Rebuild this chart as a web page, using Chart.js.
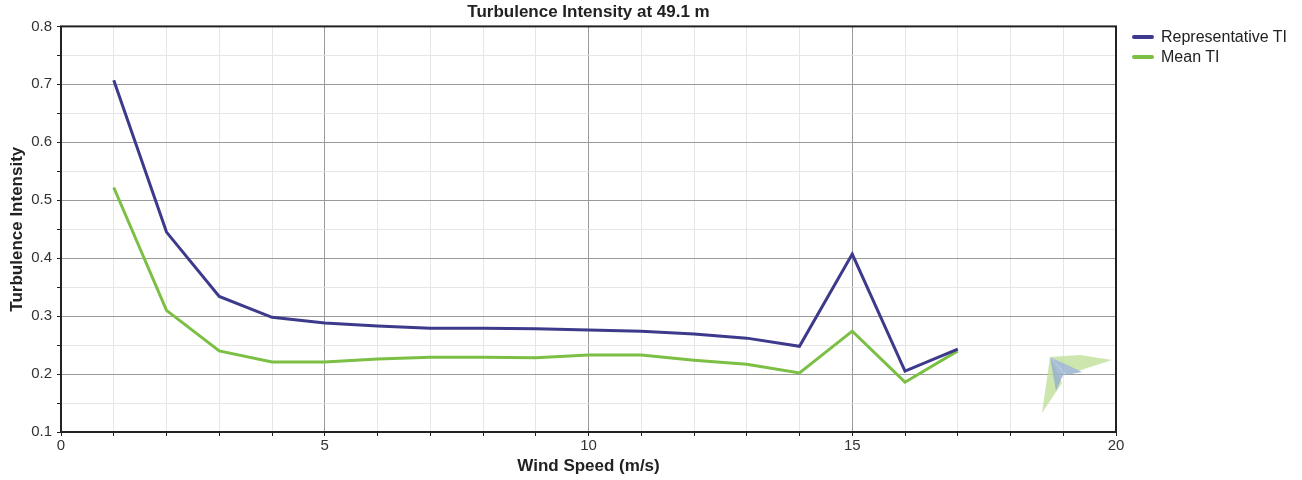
<!DOCTYPE html>
<html>
<head>
<meta charset="utf-8">
<script src="https://cdn.jsdelivr.net/npm/chart.js@4/dist/chart.umd.min.js"></script>
<style>
  html, body { margin: 0; padding: 0; background: #fff; }
  #wrap { width: 1302px; height: 480px; position: relative; }
  #legend { position: absolute; left: 1132px; top: 27px; font-family: 'Liberation Sans', Arial, sans-serif; font-size: 16px; color: #222; }
  #legend .item { height: 20px; line-height: 20px; white-space: nowrap; }
  #legend .swatch { display: inline-block; width: 22px; height: 4px; vertical-align: middle; margin-right: 7px; position: relative; top: -1px; border-radius: 2px; }
</style>
</head>
<body>
<div id="wrap">
  <canvas id="tiChart"></canvas>
  <div id="legend"></div>
</div>
<script>
// wind speed bins (m/s)
const windSpeeds = [1, 2, 3, 4, 5, 6, 7, 8, 9, 10, 11, 12, 13, 14, 15, 16, 17];
const representativeTI = [0.707, 0.445, 0.334, 0.298, 0.288, 0.283, 0.279, 0.279, 0.278, 0.276, 0.274, 0.269, 0.262, 0.248, 0.407, 0.205, 0.243];
const meanTI = [0.522, 0.310, 0.240, 0.221, 0.221, 0.226, 0.229, 0.229, 0.228, 0.233, 0.233, 0.224, 0.217, 0.202, 0.274, 0.186, 0.240];
const xLabels = [0, 5, 10, 15, 20];
const yLabels = [0.1, 0.2, 0.3, 0.4, 0.5, 0.6, 0.7, 0.8];

const FONT = "'Liberation Sans', Arial, sans-serif";
const REP_COLOR = '#3d3a8c';
const MEAN_COLOR = '#7bbf45';

// frame around plot area + little logo in the corner
const framePlugin = {
    id: 'frame',
    beforeDatasetsDraw(chart) {
        const { ctx, chartArea: a } = chart;
        // logo (decoration only)
        const px = a.right - 66, py = a.bottom - 75;
        const poly = (pts, fill) => {
            ctx.fillStyle = fill;
            ctx.beginPath();
            ctx.moveTo(px + pts[0][0], py + pts[0][1]);
            pts.slice(1).forEach(p => ctx.lineTo(px + p[0], py + p[1]));
            ctx.closePath();
            ctx.fill();
        };
        ctx.save();
        ctx.globalAlpha = 0.8;
        poly([[0, 0], [30, -2], [62, 3], [28, 14]], '#bfe09a');
        poly([[0, 0], [12, 26], [-8, 56], [-4, 28]], '#bfe09a');
        poly([[0, 0], [32, 15], [16, 18]], '#94aecd');
        poly([[0, 0], [14, 16], [6, 34]], '#94aecd');
        ctx.restore();
    },
    afterDraw(chart) {
        const { ctx, chartArea: a } = chart;
        ctx.save();
        ctx.strokeStyle = '#222';
        ctx.lineWidth = 2;
        ctx.strokeRect(a.left, a.top, a.right - a.left, a.bottom - a.top);
        ctx.restore();
    }
};

const gridColor = (ctx, every) => {
    const v = ctx.tick ? ctx.tick.value : 0;
    const major = Math.abs(v / every - Math.round(v / every)) < 1e-6;
    return major ? '#9a9a9a' : '#e6e6e6';
};

const chart = new Chart(document.getElementById('tiChart'), {
    type: 'line',
    data: {
        datasets: [
            {
                label: 'Representative TI',
                data: windSpeeds.map((w, i) => ({ x: w, y: representativeTI[i] })),
                borderColor: REP_COLOR,
                backgroundColor: REP_COLOR,
                borderWidth: 3,
                pointRadius: 0,
                tension: 0
            },
            {
                label: 'Mean TI',
                data: windSpeeds.map((w, i) => ({ x: w, y: meanTI[i] })),
                borderColor: MEAN_COLOR,
                backgroundColor: MEAN_COLOR,
                borderWidth: 3,
                pointRadius: 0,
                tension: 0
            }
        ]
    },
    options: {
        responsive: true,
        maintainAspectRatio: false,
        animation: false,
        layout: { padding: { left: 0, right: 186, top: 0, bottom: 0 } },
        scales: {
            x: {
                type: 'linear',
                min: 0,
                max: 20,
                afterFit: s => { s.height = 48; },
                ticks: {
                    stepSize: 1,
                    autoSkip: false,
                    maxRotation: 0,
                    color: '#333',
                    font: { family: FONT, size: 15 },
                    padding: 1,
                    callback: v => xLabels.includes(v) ? String(v) : ''
                },
                grid: {
                    color: c => gridColor(c, 5),
                    tickColor: '#222',
                    tickLength: 4,
                    lineWidth: 1
                },
                border: { display: false },
                title: {
                    display: true,
                    text: 'Wind Speed (m/s)',
                    color: '#222',
                    font: { family: FONT, size: 17, weight: 'bold' },
                    padding: { top: 0, bottom: 3 }
                }
            },
            y: {
                min: 0.1,
                max: 0.8,
                afterFit: s => { s.width = 61; },
                ticks: {
                    stepSize: 0.05,
                    autoSkip: false,
                    color: '#333',
                    font: { family: FONT, size: 15 },
                    padding: 5,
                    callback: v => {
                        const r = Math.round(v * 100);
                        return yLabels.some(l => Math.round(l * 100) === r) ? (r / 100).toFixed(1) : '';
                    }
                },
                grid: {
                    color: c => gridColor(c, 0.1),
                    tickColor: '#222',
                    tickLength: 4,
                    lineWidth: 1
                },
                border: { display: false },
                title: {
                    display: true,
                    text: 'Turbulence Intensity',
                    color: '#222',
                    font: { family: FONT, size: 17, weight: 'bold' },
                    padding: { top: 7, bottom: 0 }
                }
            }
        },
        plugins: {
            title: {
                display: true,
                text: 'Turbulence Intensity at 49.1 m',
                color: '#222',
                fullSize: false,
                font: { family: FONT, size: 17, weight: 'bold' },
                padding: { top: 2, bottom: 4 }
            },
            legend: { display: false },
            tooltip: { enabled: false }
        }
    },
    plugins: [framePlugin]
});

// legend on the right, built from the datasets
const legendEl = document.getElementById('legend');
chart.data.datasets.forEach(ds => {
    const item = document.createElement('div');
    item.className = 'item';
    item.innerHTML = `<span class="swatch" style="background:${ds.borderColor}"></span>${ds.label}`;
    legendEl.appendChild(item);
});
</script>
</body>
</html>
